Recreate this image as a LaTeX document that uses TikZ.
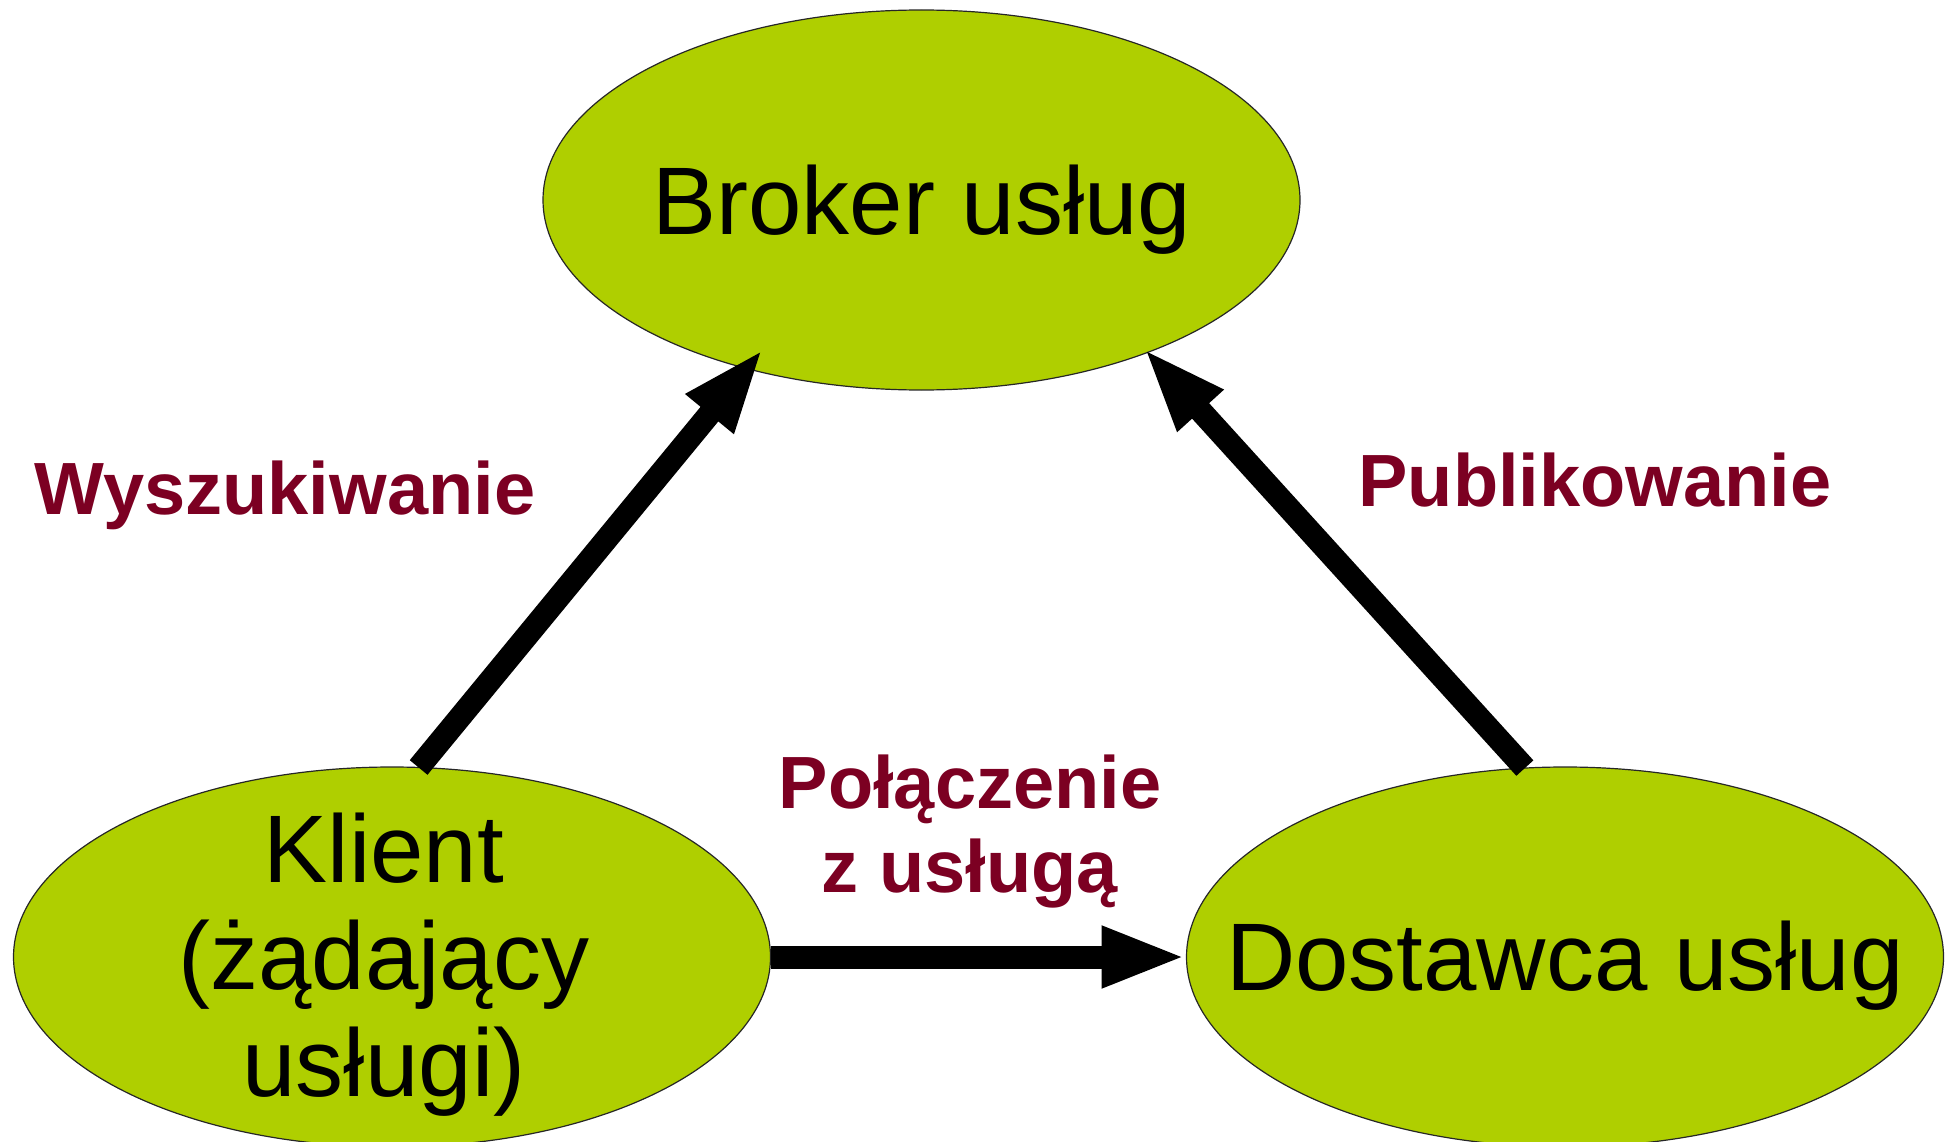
\documentclass[tikz,border=0pt]{standalone}
\usepackage{fontspec}
\setmainfont{Liberation Sans}
\usetikzlibrary{shapes.geometric,arrows.meta}
\definecolor{ellgreen}{RGB}{175,207,0}
\definecolor{lblred}{RGB}{124,0,34}
\begin{document}
\begin{tikzpicture}[x=1pt,y=-1pt,
  ell/.style={ellipse, draw=black!85, line width=1.2pt, fill=ellgreen,
    minimum width=757pt, minimum height=380pt, inner sep=0pt, outer sep=0pt},
  maintxt/.style={font=\fontsize{96}{107}\selectfont, align=center,
    inner sep=0pt, text depth=0pt},
  lbl/.style={font=\fontsize{74}{84.4}\selectfont\bfseries, text=lblred,
    align=center, inner sep=0pt, text depth=0pt},
  conn/.style={line width=23pt, -{Triangle[length=85pt,width=56pt]}}]
\path[use as bounding box] (0,0) rectangle (1954,1142);
\node[ell] (broker) at (921.5,200) {};
\node[ell] (klient) at (392,957) {};
\node[ell] (dostawca) at (1565,957) {};
\draw[conn, shorten >=-26pt] (klient.82) -- (broker.224);
\draw[conn, shorten >=-6pt] (dostawca.102) -- (broker.326);
\draw[conn] (klient.east) -- (dostawca.west);
\node[maintxt, anchor=base] (brokertxt) at (922,234) {Broker usług};
\node[maintxt, anchor=base] (dostawcatxt) at (1565,990) {Dostawca usług};
\node[maintxt, anchor=south] (klienttxt) at (384,1097) {Klient\\(żądający\\usługi)};
\node[lbl, anchor=base] (wysz) at (285,514) {Wyszukiwanie};
\node[lbl, anchor=base] (publ) at (1595,506) {Publikowanie};
\node[lbl, anchor=south] (pol) at (970,893) {Połączenie\\z usługą};
\end{tikzpicture}
\end{document}
